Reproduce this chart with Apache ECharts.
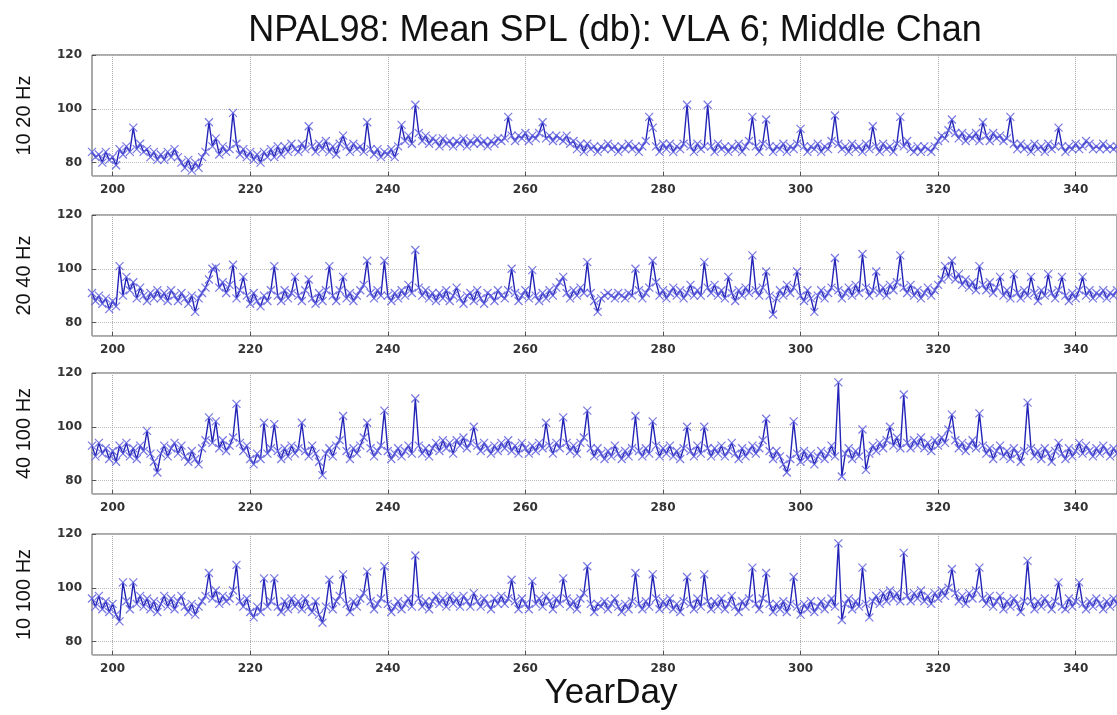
<!DOCTYPE html>
<html>
<head>
<meta charset="utf-8">
<title>NPAL98 Mean SPL</title>
<script src="https://cdn.jsdelivr.net/npm/echarts@6/dist/echarts.min.js"></script>
<style>
    html, body { margin: 0; padding: 0; background: #fff; }
    #chart { width: 1117px; height: 715px; }
</style>
</head>
<body>
<div id="chart"></div>
<script>
// band labels, one per panel
const bands = ['10 20 Hz', '20 40 Hz', '40 100 Hz', '10 100 Hz'];
const yearDayTicks = [200, 220, 240, 260, 280, 300, 320, 340];
const splTicks = [80, 100, 120];

// samples every half day starting at yearday 197
const dayStart = 197;
const dayStep = 0.5;

const spl1020 = [
    84, 82, 83, 80, 84, 81, 82, 79, 85, 83, 86, 84, 93, 85, 87, 84, 85, 82, 84, 81,
    83, 81, 84, 82, 85, 82, 80, 78, 81, 77, 80, 78, 82, 84, 95, 86, 89, 83, 86, 84,
    85, 98.5, 87, 83, 85, 82, 84, 81, 83, 80, 84, 82, 85, 82, 86, 83, 86, 84, 87, 85,
    84, 87, 85, 93.5, 86, 84, 87, 85, 88, 84, 86, 83, 87, 90, 86, 84, 87, 85, 86, 84,
    95, 85, 83, 85, 82, 84, 83, 85, 82, 86, 94, 88, 90, 87, 101.5, 91, 88, 90, 87, 89,
    88, 86, 89, 87, 88, 86, 88, 87, 89, 86, 88, 87, 89, 87, 88, 86, 88, 87, 89, 88,
    89, 97, 90, 88, 90, 89, 91, 88, 90, 89, 91, 95, 89, 90, 88, 90, 89, 88, 90, 87,
    88, 85, 87, 84, 87, 85, 86, 84, 86, 85, 87, 85, 86, 84, 86, 85, 87, 85, 86, 84,
    86, 88, 97, 93, 86, 84, 87, 85, 87, 84, 86, 85, 87, 101.5, 86, 84, 87, 85, 86, 101.5,
    86, 84, 87, 85, 86, 84, 86, 85, 87, 84, 86, 88, 97, 86, 84, 87, 96, 86, 84, 86,
    85, 87, 84, 86, 85, 87, 92.5, 86, 84, 86, 85, 87, 84, 86, 85, 88, 97.5, 87, 85, 86,
    84, 87, 85, 86, 84, 87, 85, 93.5, 86, 84, 87, 85, 86, 84, 87, 97, 86, 88, 85, 84,
    86, 84, 86, 85, 84, 86, 88, 90, 89, 92, 96, 91, 89, 91, 88, 90, 89, 91, 88, 95,
    90, 88, 91, 89, 90, 88, 89, 97, 87, 85, 87, 85, 86, 84, 87, 85, 86, 84, 87, 85,
    86, 93, 86, 84, 86, 85, 87, 85, 86, 88, 87, 85, 86, 85, 87, 85, 86, 85, 86, 85
];

const spl2040 = [
    91, 88, 90, 87, 89, 85, 88, 86, 101, 90, 97, 92, 95, 89, 93, 90, 88, 91, 89, 92,
    89, 91, 88, 92, 90, 88, 91, 89, 87, 90, 84, 89, 91, 93, 96, 100, 100.5, 93, 95, 91,
    94, 101.5, 89, 92, 97, 90, 87, 91, 88, 86, 90, 88, 92, 101, 90, 88, 92, 89, 91, 97,
    90, 88, 92, 96, 89, 87, 91, 88, 92, 101, 90, 88, 92, 97, 89, 91, 88, 90, 92, 94,
    103, 91, 89, 92, 90, 103, 90, 88, 91, 89, 92, 90, 94, 91, 107, 93, 90, 92, 89, 91,
    88, 91, 89, 92, 88, 90, 93, 89, 87, 90, 91, 88, 92, 89, 87, 91, 90, 88, 92, 90,
    89, 92, 100, 91, 88, 90, 92, 89, 99.5, 90, 88, 91, 89, 92, 90, 93, 95, 97, 91, 89,
    92, 90, 93, 91, 102.5, 91, 88, 84, 89, 90, 91, 90, 89, 91, 90, 89, 91, 90, 100, 92,
    89, 91, 93, 103, 95, 90, 92, 89, 91, 93, 90, 92, 89, 91, 94, 90, 92, 90, 102.5, 93,
    91, 94, 90, 92, 89, 97, 91, 88, 92, 90, 93, 91, 105, 92, 90, 93, 99, 90, 83, 89,
    92, 90, 94, 91, 93, 99, 90, 88, 92, 89, 84, 90, 92, 89, 91, 93, 104, 92, 89, 91,
    93, 90, 94, 91, 105.5, 93, 90, 92, 99, 91, 93, 90, 94, 92, 95, 105, 93, 91, 94, 90,
    92, 89, 91, 93, 90, 92, 94, 96, 101, 97, 103, 96, 98, 94, 96, 93, 95, 92, 101, 94,
    92, 95, 91, 93, 97, 90, 92, 89, 98, 91, 89, 92, 90, 97, 91, 88, 92, 90, 98, 91,
    89, 92, 97, 90, 88, 91, 89, 92, 97, 90, 92, 89, 91, 90, 92, 89, 91, 90, 92, 90
];

const spl40100 = [
    93, 89, 94, 90, 92, 88, 91, 87, 93, 90, 94, 89, 92, 88, 93, 91, 98.5, 90, 87, 83,
    90, 93, 89, 92, 94, 90, 93, 89, 87, 91, 88, 86, 92, 95, 103.5, 94, 102, 92, 95, 91,
    93, 96, 108.5, 94, 91, 93, 88, 86, 90, 88, 101.5, 90, 92, 101, 91, 88, 92, 89, 93, 90,
    92, 101.5, 91, 89, 93, 90, 87, 82, 90, 92, 89, 93, 95, 104, 91, 88, 92, 90, 93, 96,
    101.5, 92, 89, 91, 93, 106, 91, 88, 90, 92, 89, 91, 93, 90, 110.5, 93, 90, 92, 89, 92,
    94, 91, 95, 92, 94, 90, 95, 93, 96, 92, 94, 100, 93, 91, 94, 92, 90, 93, 91, 94,
    92, 95, 91, 93, 90, 94, 92, 90, 93, 91, 94, 92, 101.5, 93, 90, 94, 92, 103.5, 94, 91,
    93, 90, 94, 96, 106, 92, 89, 92, 90, 88, 91, 89, 93, 90, 88, 91, 89, 92, 104, 91,
    89, 92, 90, 102, 93, 89, 92, 90, 93, 89, 91, 88, 92, 100, 91, 89, 93, 90, 100, 92,
    89, 92, 90, 93, 89, 91, 94, 90, 88, 92, 89, 91, 93, 90, 92, 95, 103, 91, 88, 91,
    89, 86, 83, 88, 102, 90, 87, 91, 88, 90, 86, 89, 91, 88, 90, 93, 89, 116.5, 81.5, 90,
    92, 88, 91, 89, 99, 84, 90, 93, 91, 94, 92, 95, 100, 93, 96, 92, 112, 94, 92, 95,
    93, 96, 92, 94, 91, 95, 93, 96, 94, 99, 104.5, 95, 92, 94, 91, 93, 95, 92, 105, 93,
    90, 92, 88, 91, 93, 89, 91, 88, 92, 90, 87, 91, 109, 92, 89, 91, 88, 92, 90, 87,
    91, 94, 90, 88, 92, 89, 91, 94, 90, 93, 91, 89, 92, 90, 93, 91, 89, 92, 90, 91
];

const spl10100 = [
    96, 93, 97, 92, 95, 91, 94, 90, 87.5, 102, 95, 92, 102, 94, 97, 93, 96, 92, 95, 91,
    94, 97, 93, 96, 92, 95, 97, 93, 91, 94, 90, 93, 95, 97, 105.5, 96, 99, 94, 97, 95,
    96, 99, 108.5, 95, 93, 96, 91, 89, 93, 91, 103.5, 93, 95, 103.5, 93, 91, 95, 92, 96, 93,
    95, 92, 96, 93, 91, 95, 90, 87, 93, 103, 92, 95, 97, 105, 94, 91, 95, 93, 96, 98,
    106, 95, 92, 94, 96, 108, 94, 91, 93, 95, 92, 94, 96, 93, 112, 96, 93, 95, 92, 95,
    97, 94, 96, 93, 97, 94, 96, 93, 97, 95, 93, 98, 95, 93, 96, 94, 92, 96, 94, 97,
    94, 96, 103, 95, 92, 96, 94, 92, 102.5, 94, 96, 93, 97, 95, 92, 96, 94, 103.5, 96, 93,
    95, 92, 96, 98, 108, 94, 91, 94, 93, 95, 92, 94, 96, 93, 91, 94, 92, 95, 105.5, 94,
    92, 95, 93, 105, 96, 92, 95, 93, 96, 92, 94, 91, 95, 104, 94, 92, 96, 93, 105, 95,
    92, 95, 93, 96, 92, 94, 97, 93, 91, 95, 93, 96, 107.5, 94, 92, 96, 105.5, 94, 91, 94,
    92, 95, 91, 94, 104, 93, 90, 94, 92, 95, 91, 93, 95, 92, 94, 96, 93, 116.5, 88, 94,
    96, 92, 95, 93, 107.5, 94, 89, 95, 97, 94, 98, 95, 99, 96, 98, 95, 113, 97, 95, 98,
    96, 99, 95, 97, 94, 98, 96, 99, 97, 100, 107, 98, 95, 97, 94, 98, 96, 99, 107.5, 96,
    94, 97, 93, 95, 97, 92, 95, 93, 96, 94, 91, 95, 110, 95, 92, 95, 93, 96, 94, 92,
    95, 102, 93, 92, 96, 93, 95, 102, 94, 92, 95, 93, 96, 94, 92, 95, 93, 96, 94, 93
];

const panels = [spl1020, spl2040, spl40100, spl10100];
const gridTops = [55, 215, 373, 534];

const chart = echarts.init(document.getElementById('chart'));

const labelFont = {
    fontFamily: 'DejaVu Sans',
    fontSize: 12,
    fontWeight: 'bold',
    color: '#333'
};

const grids = [], xAxes = [], yAxes = [], series = [];
panels.forEach((vals, i) => {
    grids.push({
        left: 92,
        right: -30,
        top: gridTops[i],
        height: 121,
        show: true,
        borderColor: '#555',
        borderWidth: 1
    });
    xAxes.push({
        type: 'value',
        gridIndex: i,
        min: 197,
        max: 346,
        splitNumber: 7,
        axisLine: { show: false },
        axisTick: { show: true, inside: true, length: 4, lineStyle: { color: '#555' } },
        axisLabel: Object.assign({
            margin: 8,
            showMinLabel: false,
            showMaxLabel: false,
            formatter: v => yearDayTicks.indexOf(v) >= 0 ? String(v) : ''
        }, labelFont),
        splitLine: { show: true, lineStyle: { color: '#aaa', type: 'dotted' } }
    });
    yAxes.push({
        type: 'value',
        gridIndex: i,
        min: 75,
        max: 120,
        splitNumber: 2,
        name: bands[i],
        nameLocation: 'middle',
        nameGap: 58,
        nameTextStyle: {
            fontFamily: 'Liberation Sans',
            fontSize: 20,
            color: '#111'
        },
        axisLine: { show: false },
        axisTick: { show: true, inside: true, length: 4, lineStyle: { color: '#555' } },
        axisLabel: Object.assign({
            margin: 10,
            showMinLabel: false,
            formatter: v => splTicks.indexOf(v) >= 0 ? String(v) : ''
        }, labelFont),
        splitLine: { show: true, lineStyle: { color: '#bbb', type: 'dotted' } }
    });
    series.push({
        type: 'line',
        xAxisIndex: i,
        yAxisIndex: i,
        data: vals.map((v, k) => [dayStart + k * dayStep, v]),
        symbol: 'path://M0,0L10,10M0,10L10,0',
        symbolSize: 8,
        showSymbol: true,
        lineStyle: { color: '#2424b8', width: 1.4 },
        itemStyle: { color: 'rgba(96,96,222,0.85)', borderColor: 'rgba(96,96,222,0.85)', borderWidth: 1.2 },
        emphasis: { disabled: true }
    });
});

const options = {
    animation: false,
    backgroundColor: '#fff',
    title: [
        {
            text: 'NPAL98: Mean SPL (db): VLA 6; Middle Chan',
            left: 610,
            top: 8,
            textAlign: 'center',
            textStyle: { fontFamily: 'Liberation Sans', fontSize: 36, fontWeight: 'normal', color: '#111' }
        },
        {
            text: 'YearDay',
            left: 606,
            top: 671,
            textAlign: 'center',
            textStyle: { fontFamily: 'Liberation Sans', fontSize: 35, fontWeight: 'normal', color: '#111' }
        }
    ],
    grid: grids,
    xAxis: xAxes,
    yAxis: yAxes,
    series: series
};

chart.setOption(options);
</script>
</body>
</html>
